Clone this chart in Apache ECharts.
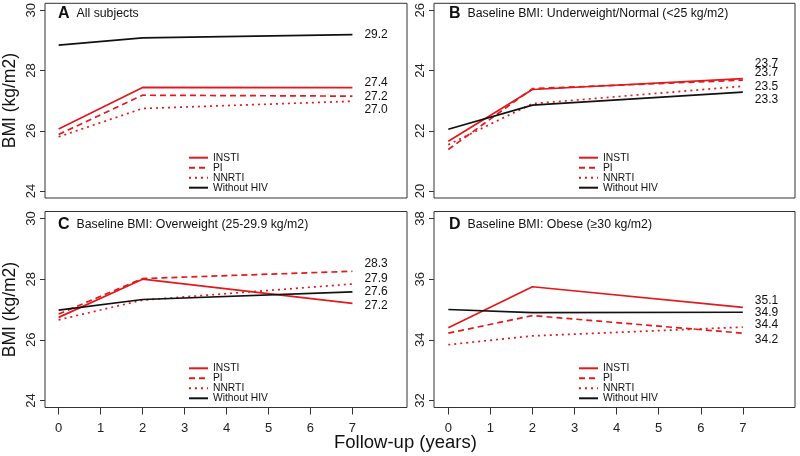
<!DOCTYPE html>
<html>
<head>
<meta charset="utf-8">
<script src="https://cdn.jsdelivr.net/npm/echarts@6/dist/echarts.min.js"></script>
<style>
  html, body { margin: 0; padding: 0; background: #fff; }
  #chart { width: 800px; height: 456px; }
</style>
</head>
<body>
<div id="chart"></div>
<script>
// follow-up years where BMI was estimated
var years = [0, 2, 7];
var groups = ['INSTI', 'PI', 'NNRTI', 'Without HIV'];

// A: all subjects
var aInsti = [26.06, 27.44, 27.43];
var aPi = [25.88, 27.18, 27.15];
var aNnrti = [25.80, 26.74, 26.98];
var aNoHiv = [28.84, 29.08, 29.19];
var aLabels = ['27.4', '27.2', '27.0', '29.2'];

// B: underweight / normal
var bInsti = [21.65, 23.37, 23.73];
var bPi = [21.38, 23.40, 23.68];
var bNnrti = [21.54, 22.90, 23.48];
var bNoHiv = [22.05, 22.85, 23.28];
var bLabels = ['23.7', '23.7', '23.5', '23.3'];

// C: overweight
var cInsti = [26.74, 28.00, 27.20];
var cPi = [26.85, 28.02, 28.26];
var cNnrti = [26.66, 27.31, 27.84];
var cNoHiv = [26.98, 27.33, 27.58];
var cLabels = ['27.2', '28.3', '27.9', '27.6'];

// D: obese
var dInsti = [34.40, 35.75, 35.07];
var dPi = [34.22, 34.80, 34.22];
var dNnrti = [33.84, 34.13, 34.42];
var dNoHiv = [35.00, 34.90, 34.91];
var dLabels = ['35.1', '34.2', '34.4', '34.9'];

var yTicksA = [24, 26, 28, 30];
var yTicksB = [20, 22, 24, 26];
var yTicksC = [24, 26, 28, 30];
var yTicksD = [32, 34, 36, 38];
var xTicks = [0, 1, 2, 3, 4, 5, 6, 7];

var panelTitles = [
  ['A', 'All subjects'],
  ['B', 'Baseline BMI: Underweight/Normal (<25 kg/m2)'],
  ['C', 'Baseline BMI: Overweight (25-29.9 kg/m2)'],
  ['D', 'Baseline BMI: Obese (\u226530 kg/m2)']
];

var RED = '#e3191c';
var BLACK = '#111';
var FONT = 'Liberation Sans, Arial, sans-serif';

var chart = echarts.init(document.getElementById('chart'), null, { renderer: 'canvas' });

var grids = [
  { left: 44, top: 1, width: 363, height: 197 },
  { left: 434, top: 1, width: 361, height: 197 },
  { left: 44, top: 211.5, width: 363, height: 196 },
  { left: 434, top: 211.5, width: 361, height: 196 }
];
grids.forEach(function (g) {
  g.show = true;
  g.borderColor = '#333';
  g.borderWidth = 1;
  g.containLabel = false;
});

function xAxisFor(i) {
  var bottomRow = i >= 2;
  var left = i % 2 === 0;
  return {
    type: 'value',
    gridIndex: i,
    min: left ? -0.325 : -0.34,
    max: left ? 8.3 : 8.24,
    splitLine: { show: false },
    axisLine: { show: false, onZero: false },
    axisTick: {
      show: bottomRow, inside: false, length: 7,
      customValues: xTicks, lineStyle: { color: '#333' }
    },
    axisLabel: {
      show: bottomRow, customValues: xTicks, fontSize: 13,
      color: '#222', margin: 14, fontFamily: FONT
    }
  };
}

function yAxisFor(i, ticks) {
  var left = i % 2 === 0;
  return {
    type: 'value',
    gridIndex: i,
    min: ticks[0] - 0.23,
    max: ticks[3] + 0.23,
    splitLine: { show: false },
    axisLine: { show: false, onZero: false },
    axisTick: {
      show: true, length: 5, customValues: ticks,
      lineStyle: { color: '#333' }
    },
    axisLabel: {
      customValues: ticks, rotate: 90, fontSize: 13,
      color: '#222', margin: 7, fontFamily: FONT
    },
    name: left ? 'BMI (kg/m2)' : '',
    nameLocation: 'middle',
    nameRotate: 90,
    nameGap: 26,
    nameTextStyle: { fontSize: 17.5, color: '#111', fontFamily: FONT }
  };
}

var panelData = [
  [aInsti, aPi, aNnrti, aNoHiv],
  [bInsti, bPi, bNnrti, bNoHiv],
  [cInsti, cPi, cNnrti, cNoHiv],
  [dInsti, dPi, dNnrti, dNoHiv]
];
var panelLabels = [aLabels, bLabels, cLabels, dLabels];
// vertical nudges (px) that keep the end labels apart
var labelNudge = [
  [-5, 1, 8, 0],
  [-15, -7, 1, 7],
  [2, -8, -5, 0],
  [-7, 7, -2, 0]
];
var styles = [
  { color: RED, type: 'solid' },
  { color: RED, type: [6, 4] },
  { color: RED, type: [2, 4] },
  { color: BLACK, type: 'solid' }
];

var series = [];
panelData.forEach(function (lines, p) {
  lines.forEach(function (vals, g) {
    var txt = panelLabels[p][g];
    series.push({
      name: groups[g],
      type: 'line',
      xAxisIndex: p,
      yAxisIndex: p,
      data: years.map(function (yr, k) { return [yr, vals[k]]; }),
      symbol: 'none',
      showSymbol: false,
      color: styles[g].color,
      lineStyle: { color: styles[g].color, width: 1.7, type: styles[g].type },
      endLabel: {
        show: true,
        formatter: function () { return txt; },
        distance: 12,
        offset: [0, labelNudge[p][g]],
        color: '#111',
        fontSize: 12,
        fontFamily: FONT
      },
      emphasis: { disabled: true },
      z: g === 3 ? 3 : 2
    });
  });
});

var legendPos = [
  { left: 188, top: 152.7 },
  { left: 578, top: 152.7 },
  { left: 188, top: 363.3 },
  { left: 578, top: 363.3 }
];
var legends = legendPos.map(function (pos) {
  return {
    left: pos.left,
    top: pos.top,
    orient: 'vertical',
    padding: 0,
    itemGap: 0,
    itemWidth: 19,
    itemHeight: 8,
    selectedMode: false,
    data: groups,
    itemStyle: { opacity: 0 },
    textStyle: { fontSize: 10.3, lineHeight: 10, color: '#111', fontFamily: FONT }
  };
});

var titlePos = [
  { left: 58, top: 6 },
  { left: 449, top: 6 },
  { left: 58, top: 217 },
  { left: 449, top: 217 }
];
var titles = titlePos.map(function (pos, i) {
  return {
    left: pos.left,
    top: pos.top,
    padding: 0,
    text: '{b|' + panelTitles[i][0] + '}{n|' + panelTitles[i][1] + '}',
    textStyle: {
      fontWeight: 'normal',
      fontSize: 12,
      rich: {
        b: { fontSize: 16, fontWeight: 'bold', color: '#111', fontFamily: FONT, padding: [0, 7, 0, 0] },
        n: { fontSize: 12.3, fontWeight: 'normal', color: '#111', fontFamily: FONT }
      }
    }
  };
});
titles.push({
  text: 'Follow-up (years)',
  left: 334,
  top: 433,
  padding: 0,
  textStyle: { fontSize: 18.5, fontWeight: 'normal', color: '#111', fontFamily: FONT }
});

chart.setOption({
  animation: false,
  backgroundColor: '#fff',
  textStyle: { fontFamily: FONT },
  title: titles,
  legend: legends,
  grid: grids,
  xAxis: [0, 1, 2, 3].map(xAxisFor),
  yAxis: [
    yAxisFor(0, yTicksA),
    yAxisFor(1, yTicksB),
    yAxisFor(2, yTicksC),
    yAxisFor(3, yTicksD)
  ],
  series: series
});
</script>
</body>
</html>
